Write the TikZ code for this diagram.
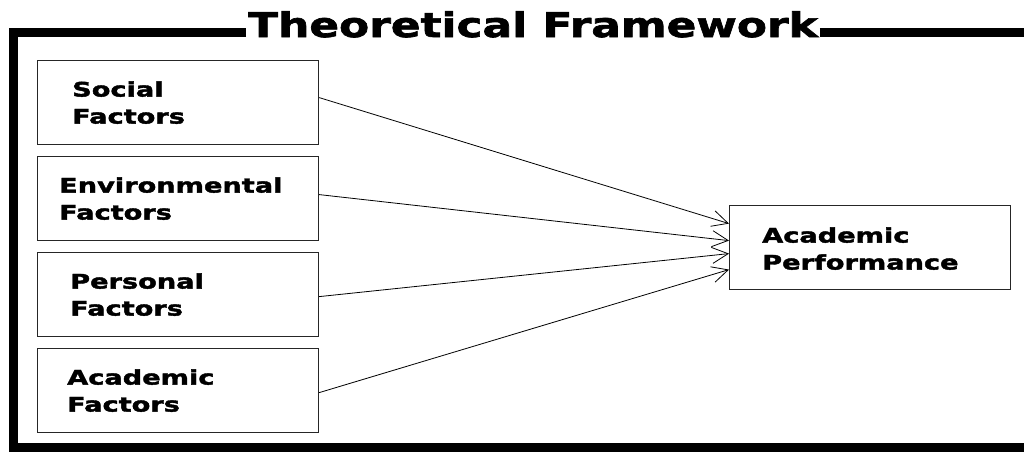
\documentclass[tikz,border=0pt]{standalone}
\usepackage{fontspec}
\newfontfamily\boxfont[FakeStretch=1.36,FakeBold=2]{DejaVu Sans Bold}
\newfontfamily\ttlfont[FakeStretch=1.29,FakeBold=2]{DejaVu Sans Bold}
\usetikzlibrary{arrows.meta,calc}
\begin{document}
\begin{tikzpicture}[x=1pt,y=-1pt,
  factor/.style={draw=black!85,line width=1.2pt,minimum width=281pt,minimum height=84pt,inner sep=0pt,anchor=north west},
  lbl/.style={inner sep=0pt,align=left,anchor=west,font=\boxfont\fontsize{20}{27}\selectfont},
  frame/.style={line width=9pt,black},
  link/.style={line width=0.8pt,black,-{Straight Barb[length=16pt,width=16pt,line width=0.8pt]}}]
\useasboundingbox[fill=white] (0,0) rectangle (1024,453);
% title
\node[inner sep=0pt,anchor=base west,font=\ttlfont\fontsize{34}{40}\selectfont] (title) at (248,37) {Theoretical Framework};
\coordinate (fl) at ($(title.base west)+(-2,-4.5)$);
\coordinate (fr) at ($(title.base east)+(2,-4.5)$);
\coordinate (tl) at (13,32.5);
\coordinate (bl) at (13,447);
\coordinate (br) at (1030,447);
\coordinate (tr) at (1030,32.5);
\draw[frame] (fl) -- (tl) -- (bl) -- (br);
\draw[frame] (fr) -- (tr);
% boxes
\node[factor] (soc) at (37,60) {};
\node[factor] (env) at (37,156) {};
\node[factor] (per) at (37,252) {};
\node[factor] (aca) at (37,348) {};
\node[factor] (ap) at (729,205) {};
% labels
\node[lbl] (socT) at ([xshift=35pt]soc.west) {Social\\Factors};
\node[lbl] (envT) at ([xshift=22pt]env.west) {Environmental\\Factors};
\node[lbl] (perT) at ([xshift=33pt]per.west) {Personal\\Factors};
\node[lbl] (acaT) at ([xshift=30pt]aca.west) {Academic\\Factors};
\node[lbl] (apT) at ([xshift=33pt,yshift=-1pt]ap.west) {Academic\\Performance};
% connectors
\draw[link] ([yshift=5pt]soc.east) -- ([yshift=24pt]ap.west);
\draw[link] ([yshift=4pt]env.east) -- ([yshift=7pt]ap.west);
\draw[link] ([yshift=-2pt]per.east) -- ([yshift=-6pt]ap.west);
\draw[link] ([yshift=-2pt]aca.east) -- ([yshift=-22pt]ap.west);
\end{tikzpicture}
\end{document}
